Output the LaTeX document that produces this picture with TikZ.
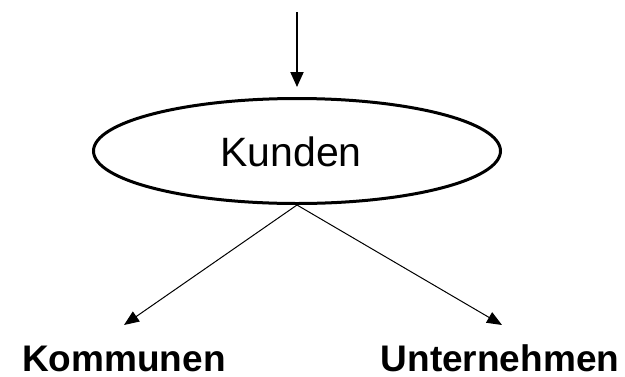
\documentclass[tikz,border=0pt]{standalone}
\usepackage{fontspec}
\setmainfont{Liberation Sans}
\usetikzlibrary{shapes.geometric,arrows.meta}
\begin{document}
\begin{tikzpicture}[x=1pt,y=-1pt,
  oval/.style={ellipse,draw,line width=3pt,minimum width=407pt,minimum height=105pt,inner sep=0pt},
  ovaltext/.style={anchor=base,inner sep=0pt,font=\fontsize{41}{44}\selectfont},
  lbl/.style={anchor=base,inner sep=0pt,font=\fontsize{37}{40}\selectfont\bfseries},
  toparrow/.style={line width=2pt,-{Triangle[length=15pt,width=13pt]}},
  diag/.style={line width=1pt,-{Triangle[length=15pt,width=12pt]}}]
\useasboundingbox (0,0) rectangle (625,376);
\coordinate (start) at (297,12);
\coordinate (ktip) at (297,87);
\node[oval] (kunden) at (297,151) {};
\node[ovaltext] (kundentext) at (291,166) {Kunden};
\coordinate (root) at (297,205);
\coordinate (ltip) at (124,325);
\coordinate (rtip) at (502,325);
\node[lbl] (komm) at (124,371) {Kommunen};
\node[lbl] (unt) at (500,371) {Unternehmen};
\draw[toparrow] (start) -- (ktip);
\draw[diag] (root) -- (ltip);
\draw[diag] (root) -- (rtip);
\end{tikzpicture}
\end{document}
